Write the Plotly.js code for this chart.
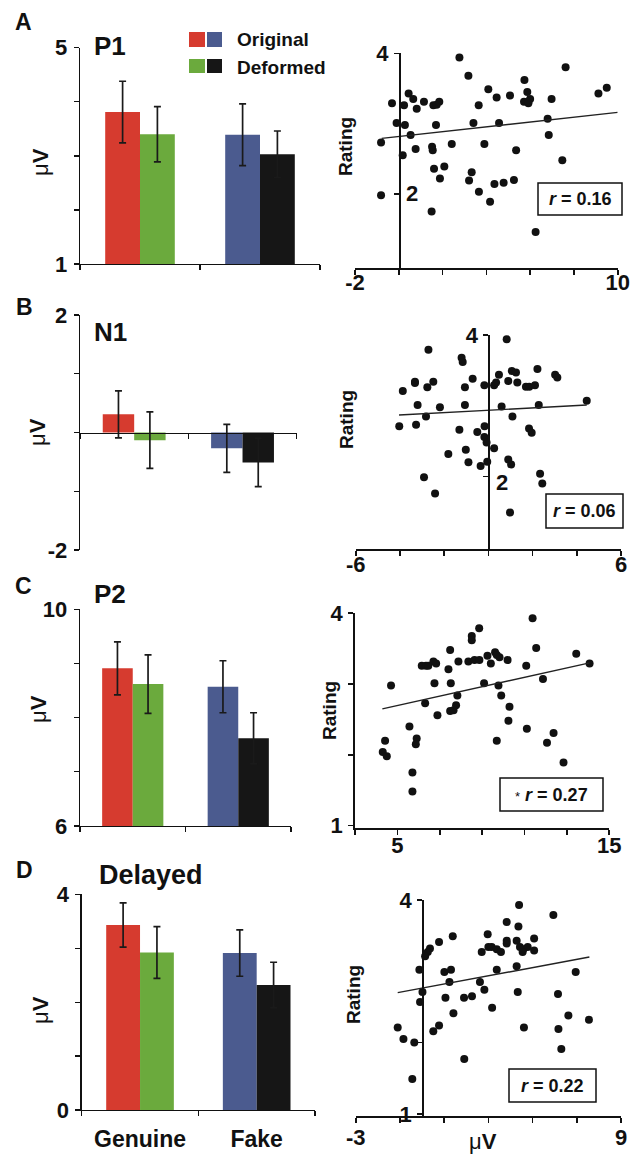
<!DOCTYPE html>
<html><head><meta charset="utf-8">
<script src="https://cdn.plot.ly/plotly-3.0.1.min.js"></script>
<style>html,body{margin:0;padding:0;background:#fff}#chart{width:630px;height:1156px}</style>
</head><body><div id="chart"></div>
<script>
// ---------------- DATA ----------------
const groups = ['Genuine', 'Fake'];
const conditions = ['Original', 'Deformed'];
const originalColors = ['#D63B2F', '#4B5B8F'];
const deformedColors = ['#6BAA3D', '#161616'];

// bar means (µV) and error bars
const p1Original = [3.81, 3.39];   const p1OriginalErr = [0.57, 0.57];
const p1Deformed = [3.40, 3.03];   const p1DeformedErr = [0.51, 0.43];
const n1Original = [0.31, -0.27];  const n1OriginalErr = [0.40, 0.41];
const n1Deformed = [-0.13, -0.51]; const n1DeformedErr = [0.48, 0.41];
const p2Original = [8.91, 8.57];   const p2OriginalErr = [0.49, 0.48];
const p2Deformed = [8.62, 7.62];   const p2DeformedErr = [0.54, 0.47];
const delOriginal = [3.43, 2.91];  const delOriginalErr = [0.41, 0.43];
const delDeformed = [2.92, 2.32];  const delDeformedErr = [0.48, 0.42];

// bar y-axis ticks
const p1BarTicks = [1, 2, 3, 4, 5];      const p1BarLabels = ['1', '', '', '', '5'];
const n1BarTicks = [-2, -1, 0, 1, 2];    const n1BarLabels = ['-2', '', '', '', '2'];
const p2BarTicks = [6, 7, 8, 9, 10];     const p2BarLabels = ['6', '', '', '', '10'];
const delBarTicks = [0, 1, 2, 3, 4];     const delBarLabels = ['0', '', '', '', '4'];

// scatter: amplitude (µV) vs rating
const p1X = [2.77,3.18,7.62,5.74,5.87,4.09,4.47,5.08,5.72,5.92,6.00,5.92,6.98,9.12,9.50,3.65,3.41,4.58,6.80,6.85,3.91,2.42,5.36,7.47,3.33,3.21,3.66,4.17,4.37,4.79,5.26,6.25,1.50,1.88,2.08,1.61,1.55,1.52,1.70,0.77,0.54,0.18,0.28,-0.10,-0.81,-0.81,-0.31,0.24,0.45,0.66,0.82,1.15,1.58,1.73,1.85];
const p1Y = [3.94,3.68,3.80,3.62,3.45,3.49,3.37,3.40,3.31,3.31,3.35,3.29,3.35,3.43,3.51,3.26,3.01,3.01,3.07,2.84,2.71,2.71,2.62,2.48,2.31,2.19,2.03,1.89,2.14,2.16,2.20,1.46,1.75,2.22,2.39,2.36,2.62,2.67,2.98,2.64,2.84,2.55,2.98,3.01,2.73,1.98,3.29,3.26,3.43,3.35,3.21,3.31,3.26,3.27,3.31];
const p1FitX = [-0.78, 10];  const p1FitY = [2.79, 3.16];

const n1X = [0.83,-2.71,-1.21,-1.16,-3.32,-3.32,-3.87,-2.76,-2.49,-0.71,-1.06,-0.18,0.26,0.35,0.48,0.90,1.06,1.25,1.31,1.70,1.85,2.11,2.22,3.02,3.12,4.45,-3.20,-2.19,-1.06,0.60,2.28,-2.82,-4.03,-3.27,1.09,-1.31,-0.50,-0.17,-0.18,-0.08,1.84,1.96,0.26,-1.02,-1.81,-0.90,-0.35,-0.05,0.90,1.03,2.34,2.44,-2.91,-2.41,0.98];
const n1Y = [3.94,3.79,3.68,3.62,3.34,3.32,3.21,3.26,3.34,3.38,3.26,3.29,3.29,3.33,3.44,3.35,3.49,3.47,3.33,3.27,3.27,3.29,3.52,3.44,3.40,3.07,3.01,2.98,3.01,2.99,3.01,2.85,2.71,2.73,2.85,2.66,2.63,2.71,2.56,2.48,2.68,2.62,2.40,2.38,2.32,2.20,2.15,2.21,2.24,2.17,2.04,1.90,1.99,1.76,1.49];
const n1FitX = [-4.04, 4.45]; const n1FitY = [2.87, 3.01];

const p2X = [11.38,8.86,8.51,8.51,7.49,7.41,6.15,6.35,6.46,6.70,6.83,7.88,8.35,8.64,8.87,9.25,9.41,9.61,9.69,9.82,10.20,11.08,11.55,13.44,14.07,4.70,6.75,7.52,9.09,9.77,11.87,6.31,7.83,9.90,7.77,7.65,7.49,6.89,10.29,10.24,5.57,11.11,4.42,5.91,5.87,9.69,12.06,12.37,4.31,4.50,12.84,5.71,5.71];
const p2Y = [3.93,3.79,3.68,3.62,3.48,3.21,3.26,3.26,3.26,3.32,3.29,3.32,3.32,3.34,3.34,3.40,3.29,3.45,3.41,3.38,3.34,3.26,3.51,3.43,3.29,2.98,3.01,3.01,3.01,2.98,3.07,2.73,2.84,2.84,2.70,2.63,2.62,2.56,2.68,2.48,2.40,2.37,2.20,2.23,2.15,2.20,2.17,2.31,2.04,1.98,1.89,1.75,1.48];
const p2FitX = [4.29, 14.07]; const p2FitY = [2.65, 3.30];

const delX = [4.39,5.94,3.83,4.36,2.97,1.39,0.77,3.83,3.83,4.28,5.07,3.00,3.15,3.38,3.57,2.70,4.43,4.58,4.78,4.55,5.07,0.36,0.26,0.14,3.38,4.28,6.95,-0.12,1.01,1.31,1.24,2.62,2.82,4.33,0.02,6.15,-0.09,1.06,1.90,2.26,3.17,1.42,6.62,7.55,-1.10,0.77,0.51,4.61,6.17,-0.84,-0.35,6.30,1.91,-0.44];
const delY = [3.93,3.79,3.69,3.63,3.52,3.49,3.41,3.43,3.39,3.43,3.46,3.34,3.34,3.31,3.27,3.27,3.34,3.31,3.34,3.27,3.29,3.32,3.27,3.21,3.02,3.07,2.99,3.02,2.99,3.02,2.85,2.85,2.74,2.71,2.71,2.68,2.57,2.63,2.63,2.65,2.49,2.41,2.38,2.32,2.21,2.24,2.16,2.21,2.19,2.05,2.00,1.91,1.77,1.49];
const delFitX = [-1.10, 7.57]; const delFitY = [2.70, 3.20];

const rTexts = ['0.16', '0.06', '0.27', '0.22'];
const rStars = ['', '', '*', ''];

// scatter axis ticks
const p1SxTicks = [-2, 0, 2, 4, 6, 8, 10];   const p1SxLabels = ['-2', '', '', '', '', '', '10'];
const n1SxTicks = [-6, -4, -2, 0, 2, 4, 6];  const n1SxLabels = ['-6', '', '', '', '', '', '6'];
const p2SxTicks = [3, 5, 7, 9, 11, 13, 15];  const p2SxLabels = ['', '5', '', '', '', '', '15'];
const delSxTicks = [-3, -1, 1, 3, 5, 7, 9];  const delSxLabels = ['-3', '', '', '', '', '', '9'];
const ratingTicksAB = [2, 4];        const ratingLabelsAB = ['', '4'];
const ratingTicksCD = [1, 2, 3, 4];  const ratingLabelsCD = ['1', '', '', '4'];

const panelLetters = ['A', 'B', 'C', 'D'];
const panelTitles = ['P1', 'N1', 'P2', 'Delayed'];

// ---------------- LAYOUT HELPERS ----------------
const W = 630, H = 1156;
const fx = p => p / W;
const fy = p => 1 - p / H;
const FONT = 'Arial, "Liberation Sans", sans-serif';
const INK = '#111111';

const layout = {
  width: W, height: H,
  margin: {l: 0, r: 0, t: 0, b: 0},
  paper_bgcolor: '#ffffff', plot_bgcolor: 'rgba(0,0,0,0)',
  showlegend: false,
  barmode: 'group', bargap: 0.42, bargroupgap: 0,
  font: {family: FONT, color: INK},
  annotations: [], shapes: []
};
const traces = [];

function axName(i, t) { return t + 'axis' + (i === 1 ? '' : i); }
function axRef(i, t) { return t + (i === 1 ? '' : i); }

// bar panels
const barPanels = [
  {orig: p1Original, origErr: p1OriginalErr, def: p1Deformed, defErr: p1DeformedErr,
   xpx: [80, 320], ypx: [47.7, 264], yr: [1, 5], tv: p1BarTicks, tt: p1BarLabels},
  {orig: n1Original, origErr: n1OriginalErr, def: n1Deformed, defErr: n1DeformedErr,
   xpx: [80, 296.7], ypx: [315, 550], yr: [-2, 2], tv: n1BarTicks, tt: n1BarLabels, xAtZero: true},
  {orig: p2Original, origErr: p2OriginalErr, def: p2Deformed, defErr: p2DeformedErr,
   xpx: [80, 291], ypx: [609.3, 826], yr: [6, 10], tv: p2BarTicks, tt: p2BarLabels},
  {orig: delOriginal, origErr: delOriginalErr, def: delDeformed, defErr: delDeformedErr,
   xpx: [81.7, 315], ypx: [894.3, 1110], yr: [0, 4], tv: delBarTicks, tt: delBarLabels, showX: true}
];

barPanels.forEach((p, k) => {
  const i = k + 1;
  const yd = [fy(p.ypx[1]), fy(p.ypx[0])];
  const xa = {
    domain: [fx(p.xpx[0]), fx(p.xpx[1])], type: 'category', range: [-0.5, 1.5],
    tickson: 'boundaries', ticks: 'outside', ticklen: 5, tickwidth: 1.3, tickcolor: INK,
    showline: true, linewidth: 1.3, linecolor: INK, showgrid: false, zeroline: false,
    showticklabels: !!p.showX, ticklabelstandoff: 8,
    tickfont: {family: FONT, size: 23, weight: 'bold', color: INK},
    fixedrange: true
  };
  if (p.xAtZero) {
    xa.anchor = 'free';
    xa.position = yd[0] + (0 - p.yr[0]) / (p.yr[1] - p.yr[0]) * (yd[1] - yd[0]);
  } else {
    xa.anchor = axRef(i, 'y');
  }
  layout[axName(i, 'x')] = xa;
  layout[axName(i, 'y')] = {
    domain: yd, anchor: axRef(i, 'x'), range: p.yr,
    tickvals: p.tv, ticktext: p.tt, ticks: 'outside', ticklen: 5, tickwidth: 1.3, tickcolor: INK,
    showline: true, linewidth: 1.3, linecolor: INK, showgrid: false, zeroline: false,
    tickfont: {family: FONT, size: 22, weight: 'bold', color: INK}, ticklabelstandoff: 2,
    fixedrange: true
  };
  const errStyle = {type: 'data', visible: true, color: '#1a1a1a', thickness: 1.7, width: 3.5};
  traces.push({type: 'bar', name: conditions[0], x: groups, y: p.orig,
    marker: {color: originalColors, line: {width: 0}},
    error_y: Object.assign({array: p.origErr}, errStyle),
    xaxis: axRef(i, 'x'), yaxis: axRef(i, 'y'), hoverinfo: 'skip'});
  traces.push({type: 'bar', name: conditions[1], x: groups, y: p.def,
    marker: {color: deformedColors, line: {width: 0}},
    error_y: Object.assign({array: p.defErr}, errStyle),
    xaxis: axRef(i, 'x'), yaxis: axRef(i, 'y'), hoverinfo: 'skip'});
});

// scatter panels
const scatterPanels = [
  {x: p1X, y: p1Y, fx: p1FitX, fy: p1FitY, xpx: [355, 617.7], ypx: [53.3, 267.8], xr: [-2, 10], yr: [0.95, 4],
   xtv: p1SxTicks, xtt: p1SxLabels, ytv: ratingTicksAB, ytt: ratingLabelsAB, cross: true, xStand: -11,
   inner2: {yshift: 0, xshift: 5}, box: [538, 622, 183, 215], ratingPos: [345, 147]},
  {x: n1X, y: n1Y, fx: n1FitX, fy: n1FitY, xpx: [355.7, 621], ypx: [335, 548.7], xr: [-6, 6], yr: [0.98, 4],
   xtv: n1SxTicks, xtt: n1SxLabels, ytv: ratingTicksAB, ytt: ratingLabelsAB, cross: true, xStand: -10,
   inner2: {yshift: -6, xshift: 6}, box: [546, 623, 494, 528], ratingPos: [346, 420]},
  {x: p2X, y: p2Y, fx: p2FitX, fy: p2FitY, xpx: [355, 609.3], ypx: [613.3, 827.7], xr: [3, 15], yr: [0.97, 4],
   xtv: p2SxTicks, xtt: p2SxLabels, ytv: ratingTicksCD, ytt: ratingLabelsCD, cross: false, xStand: -8,
   box: [500, 603, 778, 811], ratingPos: [329, 711]},
  {x: delX, y: delY, fx: delFitX, fy: delFitY, xpx: [355.7, 621], ypx: [900, 1116], xr: [-3, 9], yr: [0.97, 4],
   xtv: delSxTicks, xtt: delSxLabels, ytv: ratingTicksCD, ytt: ratingLabelsCD, cross: true, xStand: -4,
   box: [509, 596, 1069, 1102], ratingPos: [353, 995]}
];

scatterPanels.forEach((p, k) => {
  const i = k + 5;
  const xd = [fx(p.xpx[0]), fx(p.xpx[1])];
  const yd = [fy(p.ypx[1]), fy(p.ypx[0])];
  layout[axName(i, 'x')] = {
    domain: xd, anchor: axRef(i, 'y'), range: p.xr,
    tickvals: p.xtv, ticktext: p.xtt, ticks: 'outside', ticklen: 5, tickwidth: 1.6, tickcolor: INK,
    showline: true, linewidth: 1.8, linecolor: INK, showgrid: false, zeroline: false,
    tickfont: {family: FONT, size: 22, weight: 'bold', color: INK}, ticklabelstandoff: p.xStand,
    fixedrange: true
  };
  const ya = {
    domain: yd, range: p.yr,
    tickvals: p.ytv, ticktext: p.ytt, ticks: 'outside', ticklen: 5, tickwidth: 1.6, tickcolor: INK,
    showline: true, linewidth: 1.8, linecolor: INK, showgrid: false, zeroline: false,
    tickfont: {family: FONT, size: 22, weight: 'bold', color: INK}, ticklabelstandoff: 1,
    fixedrange: true
  };
  if (p.cross) {
    ya.anchor = 'free';
    ya.position = xd[0] + (0 - p.xr[0]) / (p.xr[1] - p.xr[0]) * (xd[1] - xd[0]);
  } else {
    ya.anchor = axRef(i, 'x');
  }
  layout[axName(i, 'y')] = ya;

  traces.push({type: 'scatter', mode: 'markers', x: p.x, y: p.y,
    marker: {size: 8, color: INK}, cliponaxis: false,
    xaxis: axRef(i, 'x'), yaxis: axRef(i, 'y'), hoverinfo: 'skip'});
  traces.push({type: 'scatter', mode: 'lines', x: p.fx, y: p.fy,
    line: {width: 1.4, color: '#222222'},
    xaxis: axRef(i, 'x'), yaxis: axRef(i, 'y'), hoverinfo: 'skip'});

  if (p.inner2) {
    layout.annotations.push({xref: axRef(i, 'x'), yref: axRef(i, 'y'), x: 0, y: 2, text: '2',
      showarrow: false, xanchor: 'left', yanchor: 'middle', xshift: p.inner2.xshift, yshift: p.inner2.yshift,
      font: {family: FONT, size: 22, weight: 'bold', color: INK}});
  }
  // correlation box
  const b = p.box;
  layout.shapes.push({type: 'rect', xref: 'paper', yref: 'paper',
    x0: fx(b[0]), x1: fx(b[1]), y0: fy(b[3]), y1: fy(b[2]),
    line: {color: INK, width: 1.5}, fillcolor: 'rgba(255,255,255,0)'});
  const star = rStars[k] ? '<span style="font-weight:normal;font-size:13px">' + rStars[k] + '</span> ' : '';
  layout.annotations.push({xref: 'paper', yref: 'paper', x: fx((b[0] + b[1]) / 2), y: fy((b[2] + b[3]) / 2),
    text: star + '<i>r</i> = ' + rTexts[k], showarrow: false, xanchor: 'center', yanchor: 'middle',
    font: {family: FONT, size: 18, weight: 'bold', color: INK}});
  // Rating title
  layout.annotations.push({xref: 'paper', yref: 'paper', x: fx(p.ratingPos[0]), y: fy(p.ratingPos[1]),
    text: 'Rating', textangle: -90, showarrow: false, xanchor: 'center', yanchor: 'middle',
    font: {family: FONT, size: 19, weight: 'bold', color: INK}});
});

// bar y titles (µV)
const muvPos = [[40, 162], [38, 432], [38, 709], [40, 1010]];
muvPos.forEach(pos => {
  layout.annotations.push({xref: 'paper', yref: 'paper', x: fx(pos[0]), y: fy(pos[1]),
    text: 'μ<b>V</b>', textangle: -90, showarrow: false, xanchor: 'center', yanchor: 'middle',
    font: {family: FONT, size: 22, color: INK}});
});
// x title of last scatter
layout.annotations.push({xref: 'paper', yref: 'paper', x: fx(483), y: fy(1141),
  text: 'μ<b>V</b>', showarrow: false, xanchor: 'center', yanchor: 'middle',
  font: {family: FONT, size: 22, color: INK}});

// panel letters & titles
const letterPos = [[23, 22], [24, 307], [23, 586], [24, 870]];
const titlePos = [[92, 46], [92, 332], [92, 594], [97, 875]];
panelLetters.forEach((L, k) => {
  layout.annotations.push({xref: 'paper', yref: 'paper', x: fx(letterPos[k][0]), y: fy(letterPos[k][1]),
    text: L, showarrow: false, xanchor: 'center', yanchor: 'middle',
    font: {family: FONT, size: 23, weight: 'bold', color: INK}});
  layout.annotations.push({xref: 'paper', yref: 'paper', x: fx(titlePos[k][0]), y: fy(titlePos[k][1]),
    text: panelTitles[k], showarrow: false, xanchor: 'left', yanchor: 'middle',
    font: {family: FONT, size: k === 3 ? 27 : 26, weight: 'bold', color: INK}});
});

// legend (colour squares + labels)
const legendSquares = [
  {c: originalColors[0], x: [189, 205], y: [32, 47]},
  {c: originalColors[1], x: [207, 222], y: [32, 47]},
  {c: deformedColors[0], x: [189, 205], y: [59, 73]},
  {c: deformedColors[1], x: [207, 222], y: [59, 73]}
];
legendSquares.forEach(s => {
  layout.shapes.push({type: 'rect', xref: 'paper', yref: 'paper',
    x0: fx(s.x[0]), x1: fx(s.x[1]), y0: fy(s.y[1]), y1: fy(s.y[0]),
    line: {width: 0}, fillcolor: s.c});
});
[[conditions[0], 39], [conditions[1], 67]].forEach(([t, py]) => {
  layout.annotations.push({xref: 'paper', yref: 'paper', x: fx(235), y: fy(py),
    text: t, showarrow: false, xanchor: 'left', yanchor: 'middle',
    font: {family: FONT, size: 19, weight: 'bold', color: INK}});
});

Plotly.newPlot('chart', traces, layout, {staticPlot: true, displayModeBar: false});
</script>
</body></html>
